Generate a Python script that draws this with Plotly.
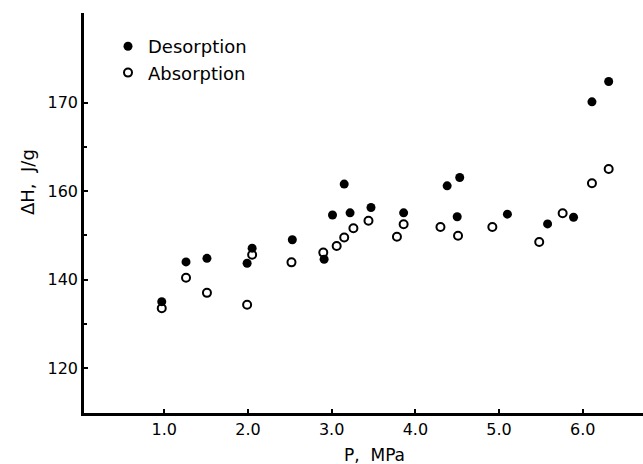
import plotly.graph_objects as go

# Data
des_p = [0.97, 1.26, 1.51, 1.99, 2.05, 2.53, 2.91, 3.01, 3.15, 3.22, 3.47, 3.86,
         4.38, 4.53, 4.50, 5.10, 5.58, 5.89, 6.11, 6.31]
des_h = [135.0, 144.0, 144.8, 143.7, 147.1, 149.0, 144.6, 154.6, 161.6, 155.1, 156.3, 155.1,
         161.2, 163.1, 154.2, 154.8, 152.6, 154.1, 180.2, 184.8]

abs_p = [0.97, 1.26, 1.51, 1.99, 2.05, 2.52, 2.90, 3.06, 3.15, 3.26, 3.44, 3.78,
         3.86, 4.30, 4.51, 4.92, 5.48, 5.76, 6.11, 6.31]
abs_h = [133.5, 140.4, 137.0, 134.3, 145.6, 143.9, 146.1, 147.6, 149.5, 151.6, 153.3, 149.7,
         152.5, 151.9, 149.9, 151.9, 148.5, 155.0, 161.8, 165.0]

x_ticks = [1, 2, 3, 4, 5, 6]
x_ticktext = ["1.0", "2.0", "3.0", "4.0", "5.0", "6.0"]
y_ticks = [120, 140, 160, 180]
y_ticktext = ["120", "140", "160", "170"]
y_minor = [130, 150, 170]

FONT = "DejaVu Sans"
W, H = 643, 464
ML, MR, MT, MB = 84, 0, 13, 51

fig = go.Figure()
fig.add_trace(go.Scatter(
    x=des_p, y=des_h, mode="markers", name="Desorption",
    marker=dict(symbol="circle", size=9, color="black"),
    legendgroup="a",
))
fig.add_trace(go.Scatter(
    x=abs_p, y=abs_h, mode="markers", name="Absorption",
    marker=dict(symbol="circle-open", size=8, color="black", line=dict(width=2)),
    legendgroup="b",
))

pw = W - ML - MR
ph = H - MT - MB

def px_x(p):
    return (p - ML) / pw

def px_y(p):
    return (H - MB - p) / ph

fig.update_layout(
    width=W, height=H,
    margin=dict(l=ML, r=MR, t=MT, b=MB),
    paper_bgcolor="white", plot_bgcolor="white",
    font=dict(family=FONT, size=16, color="black"),
    showlegend=True,
    legend=dict(x=px_x(108), y=px_y(28), xanchor="left", yanchor="top",
                bgcolor="rgba(0,0,0,0)", font=dict(size=18),
                tracegroupgap=0, traceorder="grouped"),
    xaxis=dict(
        range=[0.041, 6.72], showline=True, linecolor="black", linewidth=2.5,
        showgrid=False, zeroline=False, mirror=False,
        tickvals=x_ticks, ticktext=x_ticktext, ticks="inside", ticklen=4,
        tickwidth=1.5, tickcolor="black", tickfont=dict(size=16),
    ),
    yaxis=dict(
        range=[109.82, 200.3], showline=True, linecolor="black", linewidth=2.5,
        showgrid=False, zeroline=False, mirror=False,
        tickvals=y_ticks, ticktext=y_ticktext, ticks="inside", ticklen=4,
        tickwidth=1.5, tickcolor="black", tickfont=dict(size=16),
        minor=dict(tickvals=y_minor, ticks="inside", ticklen=3, tickcolor="black", tickwidth=1.5),
    ),
    annotations=[
        dict(text="P,  MPa", xref="paper", yref="paper", x=px_x(374), y=px_y(455),
             xanchor="center", yanchor="middle", showarrow=False, font=dict(size=17)),
        dict(text="ΔH,  J/g", xref="paper", yref="paper", x=px_x(27), y=px_y(182),
             xanchor="center", yanchor="middle", showarrow=False, textangle=-90,
             font=dict(size=18)),
    ],
)

fig.write_html("out.html", config={"displayModeBar": False},
               post_script="document.body.style.margin='0';")
